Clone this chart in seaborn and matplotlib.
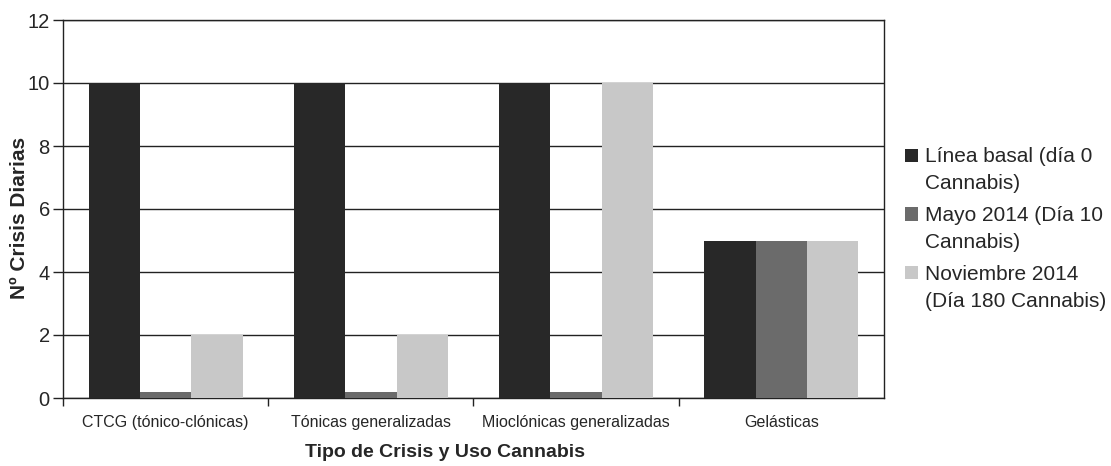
import matplotlib
matplotlib.use("Agg")
import matplotlib.pyplot as plt
import seaborn as sns
import pandas as pd
import numpy as np
from matplotlib.patches import Rectangle
from matplotlib.legend_handler import HandlerPatch

categories = ["CTCG (tónico-clónicas)", "Tónicas generalizadas",
              "Mioclónicas generalizadas", "Gelásticas"]
series_names = ["Línea basal (día 0\nCannabis)",
                "Mayo 2014 (Día 10\nCannabis)",
                "Noviembre 2014\n(Día 180 Cannabis)"]
basal = [10, 10, 10, 5]
mayo = [0.2, 0.2, 0.2, 5]
noviembre = [2, 2, 10, 5]
colors = ["#282828", "#6b6b6b", "#c8c8c8"]

rows = []
for s, vals in zip(series_names, [basal, mayo, noviembre]):
    for c, v in zip(categories, vals):
        rows.append({"Categoria": c, "Serie": s, "Valor": v})
df = pd.DataFrame(rows)

sns.set_style("white")
plt.rcParams["font.family"] = ["Liberation Sans", "DejaVu Sans"]

fig = plt.figure(figsize=(11.11, 4.66), dpi=100)
ax = fig.add_axes([63 / 1111, 1 - 398 / 466, (884 - 63) / 1111, (398 - 20) / 466])

sns.barplot(data=df, x="Categoria", y="Valor", hue="Serie", order=categories,
            hue_order=series_names, palette=colors, width=0.75, ax=ax,
            saturation=1, errorbar=None, edgecolor="none", linewidth=0, zorder=3)

ax.set_ylim(0, 12)
ax.set_xlim(-0.5, 3.5)
ax.set_yticks([0, 2, 4, 6, 8, 10, 12])
ax.yaxis.grid(True, color="#222222", linewidth=1.0, zorder=0)
ax.set_axisbelow(True)
for sp in ax.spines.values():
    sp.set_visible(True)
    sp.set_color("#222222")
    sp.set_linewidth(1.0)

ax.tick_params(axis="y", which="major", direction="out", length=7.5, width=1,
               color="#222222", labelsize=14.5, pad=2, left=True)
ax.tick_params(axis="x", which="major", length=0, labelsize=11.5, pad=12)
ax.set_xticks(np.arange(-0.5, 3.0, 1.0), minor=True)
ax.tick_params(axis="x", which="minor", direction="out", length=6, width=1,
               color="#222222", bottom=True)

ax.set_ylabel("Nº Crisis Diarias", fontsize=15, fontweight="bold")
ax.yaxis.set_label_coords(-0.042, 0.476)
ax.set_xlabel("Tipo de Crisis y Uso Cannabis", fontsize=14, fontweight="bold")
ax.xaxis.set_label_coords(0.465, -0.122)


def top_square(legend, orig_handle, xdescent, ydescent, width, height, fontsize):
    shift = 0.72 * fontsize
    return Rectangle((-xdescent, -ydescent + shift), width, height)


handles, labels = ax.get_legend_handles_labels()
ax.legend_.remove()
leg = fig.legend(handles, labels, loc="upper left",
                 bbox_to_anchor=(905 / 1111, 1 - 147 / 466),
                 frameon=False, fontsize=15, handlelength=0.6, handleheight=0.6,
                 handletextpad=0.35, labelspacing=0.6, borderaxespad=0, borderpad=0,
                 handler_map={h: HandlerPatch(patch_func=top_square) for h in handles})
for t in leg.get_texts():
    t.set_linespacing(1.55)

fig.savefig("out.png", dpi=100)
